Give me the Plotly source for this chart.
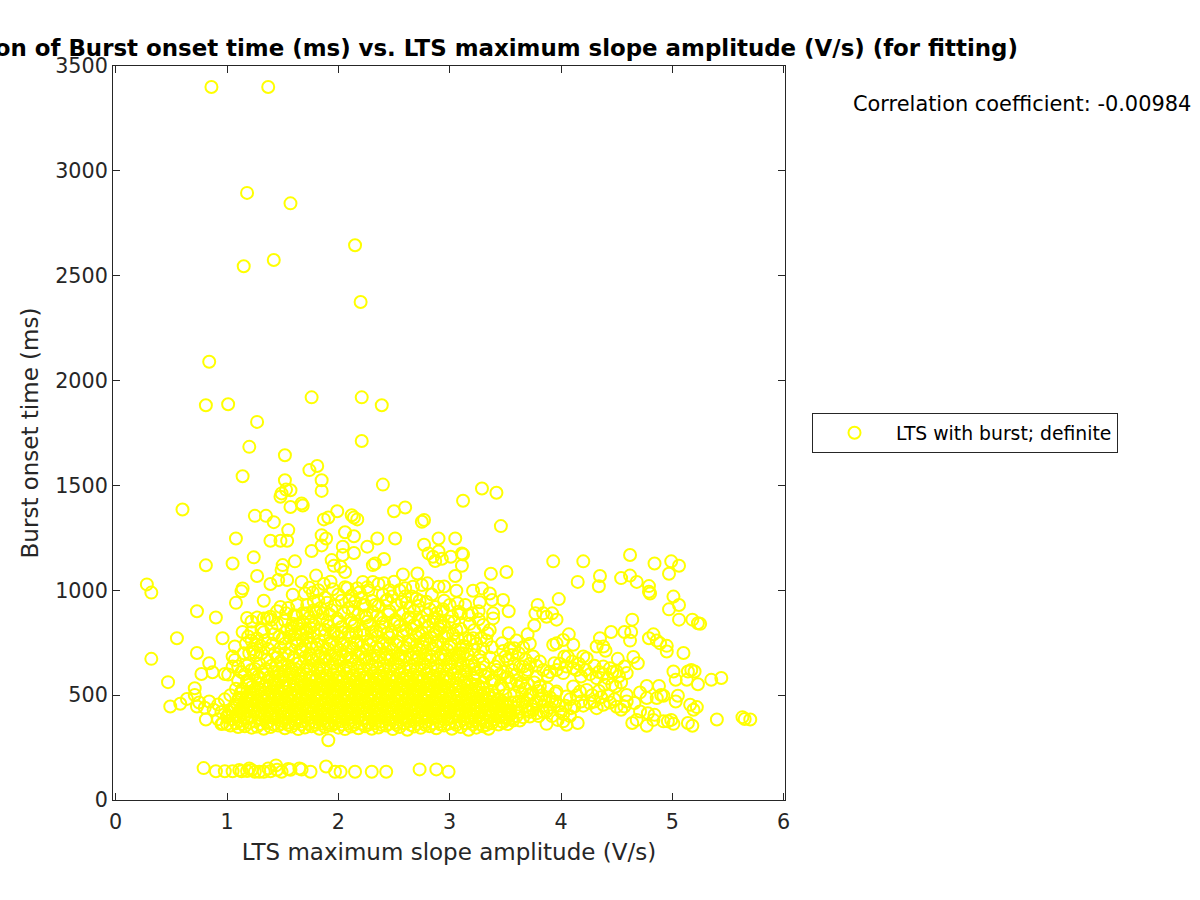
import plotly.graph_objects as go

title_text = "Correlation of Burst onset time (ms) vs. LTS maximum slope amplitude (V/s) (for fitting)"
x_label = "LTS maximum slope amplitude (V/s)"
y_label = "Burst onset time (ms)"
series_name = "LTS with burst; definite"
corr_text = "Correlation coefficient: -0.00984"
x_ticks = [0, 1, 2, 3, 4, 5, 6]
y_ticks = [0, 500, 1000, 1500, 2000, 2500, 3000, 3500]

high = [(.86,3400),(1.37,3400),(1.18,2895),(1.57,2845),(2.15,2645),(1.15,2545),(1.42,2575),(2.2,2375),(.84,2090),
(.81,1882),(1.01,1887),(1.76,1920),(2.21,1920),(2.39,1882),(1.27,1803),(1.20,1684),(2.21,1712),(1.52,1644),
(1.14,1544),(1.74,1573),(1.81,1593),(1.52,1525),(1.85,1525),(1.85,1474),(1.57,1477),(1.53,1480),(1.48,1446),
(1.49,1462),(1.57,1397),(1.67,1414),(1.68,1404),(2.40,1504),(.60,1385),(1.25,1355),(1.35,1355),(1.42,1325),
(1.55,1287),(1.39,1236),(1.48,1236),(1.54,1236),(1.08,1247),(1.24,1157),(.81,1119),(1.05,1128),(1.27,1068),
(1.39,1030),(1.46,1049),(1.54,1049),(1.49,1097),(1.50,1120),(1.61,1138),(1.76,1187),(1.85,1214),(1.85,1263),
(1.89,1247),(2.06,1277),(2.14,1258),(2.04,1208),(2.04,1168),(2.14,1178),(2.26,1208),(1.87,1338),(1.91,1347),
(1.99,1377),(2.12,1358),(2.14,1347),(2.17,1338),(2.50,1377),(2.60,1395),(2.75,1327),(2.77,1335),(2.77,1217),
(2.90,1247),(2.35,1247),(2.51,1247),(2.41,1149),(2.33,1128),(2.31,1120),(1.94,1144),(1.96,1117),(2.02,1112),
(2.06,1087),(1.80,1070),(1.67,1040),(1.93,1041),(1.87,1030),(1.74,1012),(1.77,989),(1.59,979),(1.33,950),
(.28,1028),(.32,989),(1.14,1009),(1.13,995),(1.08,940),(.73,900),(.90,870),(1.48,920),(1.63,930),(3.05,1247),
(3.01,1160),(3.11,1176),(3.12,1171),(3.11,1117),(3.05,1068),(3.37,1079),(3.51,1087),(3.12,1427),(3.29,1485),
(3.42,1465),(3.46,1306),(2.81,1176),(2.85,1160),(2.87,1140),(2.90,1185),(2.93,1150),(2.95,1018),(2.71,1080),(2.58,1075)]

low_band = [(.79,152),(.90,137),(.98,137),(1.05,137),(1.11,143),(1.13,137),(1.18,138),(1.22,143),(1.25,135),(1.29,135),
(1.33,135),(1.39,137),(1.44,165),(1.45,144),(1.49,135),(1.55,148),(1.57,144),(1.65,150),(1.67,145),(1.75,135),
(1.89,160),(1.97,135),(2.02,135),(2.15,135),(2.30,135),(2.43,135),(2.73,146),(2.88,146),(2.99,135),(1.20,150),(1.37,150),(1.91,285)]

left_edge = [(.55,771),(.96,771),(.32,673),(.73,701),(1.07,732),(1.18,868),(1.22,851),(1.14,801),(1.31,811),(1.42,790),
(1.36,866),(1.39,874),(1.40,859),(1.33,866),(.47,562),(.84,652),(.77,601),(.87,609),(.98,601),(1.01,598),(.71,533),
(.71,501),(.64,482),(.58,459),(.49,446),(.73,446),(.75,465),(.81,384),(1.05,684),(1.07,668),(1.05,636),(1.10,636),
(1.22,620),(1.24,597),(.80,440),(.84,470),(.88,430),(.92,455),(.95,420),(.98,480),(1.00,400),(.92,385),(.96,365),
(1.00,362),(1.03,500),(1.06,440),(1.08,530),(1.10,570),(1.13,610),(1.18,640),(1.20,700),(1.23,720),(1.27,740),
(1.22,760),(1.26,690),(1.31,700),(1.36,670),(1.40,640),(1.35,625),(1.29,650),(1.45,680),(1.48,725),(1.52,745),
(1.55,690),(1.60,680),(1.63,745),(1.47,780),(1.54,810),(1.59,840),(1.66,790),(1.70,735)]

right_tail = [(3.93,1138),(4.20,1138),(4.62,1168),(4.84,1128),(4.99,1138),(5.06,1117),(4.97,1079),(4.54,1058),(4.62,1070),
(4.68,1040),(4.79,1020),(4.79,993),(4.80,985),(4.35,1068),(4.34,1019),(4.15,1040),(3.98,958),(5.01,970),(5.06,930),
(4.97,909),(5.06,860),(5.18,860),(5.23,843),(5.25,840),(4.64,860),(4.45,801),(4.57,801),(4.63,801),(4.62,760),
(4.83,790),(4.79,771),(4.86,760),(4.89,747),(4.95,735),(4.95,708),(5.10,701),(4.35,771),(4.32,732),(4.38,732),
(4.40,712),(4.51,673),(4.65,682),(4.69,652),(5.01,613),(5.14,613),(5.17,620),(5.20,613),(5.03,573),(5.13,573),
(5.23,552),(5.35,573),(5.44,582),(4.77,544),(4.88,544),(4.71,513),(4.77,486),(4.86,486),(4.90,501),(4.92,497),
(5.05,497),(5.03,470),(5.16,454),(5.22,443),(5.19,430),(5.40,384),(5.63,395),(5.65,386),(5.70,384),(5.14,367),
(5.18,354),(5.01,363),(4.99,382),(4.96,375),(4.92,375),(4.77,354),(4.64,367),(4.68,382),(4.84,406),(4.83,382),
(4.78,414),(4.71,422),(4.66,462),(4.59,501),(4.59,470),(4.54,430),(4.57,446),(4.44,465),(4.38,454),(4.32,438),
(4.26,462),(4.15,367),(4.05,359),(3.87,363),(3.97,382),(4.02,375),(4.12,446),(4.09,438),(4.05,494),(3.95,509),
(3.95,470),(3.87,422),(3.78,414),(3.72,398),(3.57,379),(3.51,390),(3.56,390),(3.63,379)]

right_mid = [(3.93,740),(3.96,747),(4.02,763),(4.07,790),(4.11,740),(3.76,832),(3.70,790),(3.79,930),(3.77,890),(3.84,890),
(3.87,874),(3.92,890),(3.96,860),(3.53,795),(3.66,728),(3.75,684),(3.81,660),(3.94,652),(4.03,684),(4.06,684),
(4.20,684),(4.23,676),(4.05,636),(4.11,628),(4.02,605),(4.18,589),(4.32,581),(4.39,549),(4.49,541),(4.38,636),
(4.44,628),(4.50,613),(4.59,605),(4.57,636),(3.88,592),(3.78,589),(3.70,554),(3.81,541),(4.17,517),(4.23,525),
(4.11,541),(3.96,517),(3.53,900),(3.39,890),(3.39,866),(3.48,954),(3.36,985),(3.29,1009),(3.21,998),(3.06,998),
(3.27,943),(3.38,954),(3.07,938),(3.08,898),(3.17,882),(3.20,890),(3.26,862),(3.36,811),(3.34,795),(3.28,771),
(3.21,771),(3.14,771),(3.18,763),(3.06,811),(2.99,851),(3.38,728),(3.47,747),(3.54,724),(3.58,724),(3.50,684),
(3.56,692),(3.63,636),(3.66,636),(3.41,636),(3.45,597),(3.27,684),(3.30,652),(3.24,605),(3.09,700),(3.12,652),
(3.48,710),(3.52,670),(3.58,650),(3.44,660),(3.60,600),(3.68,600),(3.55,560),(3.62,540),(3.48,530),(3.72,500),
(3.78,470),(3.66,470),(3.84,450),(3.90,490),(3.60,440),(3.70,430),(3.54,420),(3.46,400),(3.40,440),(3.43,480),
(3.50,500),(3.38,520),(3.58,500),(3.90,440),(3.80,520),(3.74,450),(3.65,510),(3.30,560),(3.35,600),
(3.62,420),(3.68,445),(3.75,430),(3.82,480),(3.58,465),(3.52,445),(3.47,460),(3.42,410),(3.40,500),(3.46,550)]

upper_mid = [(1.70,985),(1.82,1000),(1.88,965),(1.95,1005),(2.00,980),(2.06,1015),(2.12,975),(2.17,1010),(2.21,965),
(2.27,1000),(2.36,1030),(2.41,1033),(2.46,1000),(2.50,1041),(2.55,1000),(2.60,970),(2.67,1017),(2.75,1025),
(2.80,1033),(2.90,1017),(2.84,980),(2.70,960),(2.95,950),(1.72,930),(1.78,945),(1.84,915),(1.90,940),(1.97,925),
(2.03,950),(2.09,915),(2.15,945),(2.24,930),(2.30,950),(2.36,925),(2.44,955),(2.52,930),(2.57,945),(2.64,915),
(2.72,925),(2.79,945),(2.87,920),(2.93,900),(3.00,930),(1.55,915),(1.62,880),(1.68,890),(1.74,870),(1.80,895),
(1.86,860),(1.92,885),(1.99,865),(2.05,890),(2.11,860),(2.18,885),(2.25,870),(2.31,895),(2.38,865),(2.45,885),
(2.51,860),(2.58,890),(2.65,870),(2.72,860),(2.80,885),(2.86,865),(2.92,850),(3.02,875),(1.45,840),(1.52,855),
(1.58,820),(1.65,840),(1.71,815),(1.78,835),(1.84,810),(1.91,830),(1.96,805),(2.03,825),(2.09,800),(2.14,830),
(2.22,810),(2.28,835),(2.34,805),(2.41,825),(2.48,800),(2.55,830),(2.61,810),(2.68,835),(2.75,800),(2.81,825),
(2.88,805),(2.95,830),(3.03,790),(3.10,815)]

mid_780 = [(1.72,775),(1.78,795),(1.83,760),(1.88,785),(1.94,755),(2.00,780),(2.05,750),(2.11,775),(2.17,755),(2.23,785),
(2.29,760),(2.35,780),(2.40,750),(2.46,775),(2.53,755),(2.58,785),(2.64,760),(2.70,780),(2.76,750),(2.83,775),
(2.89,755),(2.95,780),(3.01,745),(3.07,770),(3.12,735)]
mid_710 = [(1.68,715),(1.74,695),(1.80,725),(1.85,700),(1.91,720),(1.97,690),(2.02,715),(2.08,695),(2.13,725),(2.20,700),
(2.26,715),(2.32,690),(2.37,720),(2.43,695),(2.49,715),(2.55,690),(2.61,725),(2.67,700),(2.73,715),(2.79,690),
(2.85,720),(2.92,695),(2.98,715),(3.04,690),(3.10,720),(3.16,695),(3.22,715)]
mid_660 = [(1.42,610),(1.50,640),(1.58,625),(1.65,655),(1.72,640),(1.77,665),(1.83,645),(1.89,670),(1.95,650),(2.01,665),
(2.07,640),(2.12,665),(2.18,650),(2.24,670),(2.30,645),(2.36,660),(2.41,640),(2.47,670),(2.53,650),(2.59,665),
(2.65,640),(2.71,670),(2.77,650),(2.83,665),(2.89,640),(2.95,670),(3.01,650),(3.07,665),(3.17,640),(3.20,660)]
mid_extra = [(1.75,745),(1.81,740),(1.86,735),(1.92,745),(1.98,735),(2.04,742),(2.10,730),(2.16,745),(2.22,735),(2.28,742),
(2.34,730),(2.40,745),(2.46,735),(2.52,740),(2.58,730),(2.64,745),(2.70,735),(2.76,730),(2.82,745),(2.88,735),
(2.94,742),(3.00,730),(1.70,680),(1.76,675),(1.82,685),(1.88,678),(1.94,688),(2.00,676),(2.06,684),(2.12,678),
(2.18,688),(2.24,680),(2.30,674),(2.36,686),(2.42,678),(2.48,688),(2.54,676),(2.60,684),(2.66,678),(2.72,686),
(2.78,674),(2.84,684),(2.90,678),(2.96,688),(3.02,676),(3.08,684),(1.75,820),(1.88,812),(2.00,850),(2.12,845),
(2.26,850),(2.40,845),(2.53,850),(2.66,815),(2.78,850),(2.91,815),(1.62,765),(1.68,760),(2.78,765),(3.12,700),
(2.03,800),(2.16,795),(2.30,800),(2.44,795),(2.58,805),(2.72,795),(2.86,790),(2.98,795)]

cluster_left = [(1.15,700),(1.17,745),(1.19,780),(1.24,705),(1.27,770),(1.30,735),(1.34,760),(1.33,800),(1.37,720),(1.41,745),
(1.43,700),(1.44,640),(1.46,610),(1.50,770),(1.56,780),(1.58,805),(1.61,790),(1.63,835),(1.66,815),(1.68,850),
(1.16,600),(1.19,560),(1.25,625),(1.28,590),(1.32,610),(1.38,585),(1.43,570),(1.50,590),(1.55,640),(1.58,600),
(1.62,650),(1.48,660),(1.52,700),(1.57,720),(1.66,715),(1.72,800),(1.75,850),(1.78,905),(1.82,950),(1.86,890),
(1.90,850),(1.94,905),(1.96,795),(1.72,890),(1.60,880),(1.53,890),(1.45,900),(1.40,820),(1.27,870),(1.22,800)]
cluster_top = [(2.08,1010),(2.10,950),(2.13,900),(2.15,840),(2.19,990),(2.22,930),(2.24,880),(2.26,1015),(2.33,930),(2.35,880),
(2.38,810),(2.43,950),(2.46,900),(2.50,840),(2.48,970),(2.61,940),(2.63,870),(2.66,970),(2.68,900),(2.70,830),
(2.73,950),(2.82,910),(2.85,850),(2.88,890),(2.92,830),(2.94,910),(2.40,980),(2.31,1040),(2.22,1040),(2.60,1010),
(3.04,850),(3.10,890),(3.14,930),(3.18,840),(3.22,810),(3.26,900),(3.30,835),(3.33,760),(3.15,730),(3.24,745),
(3.30,720),(3.36,680),(3.10,640),(3.15,610),(3.22,640),(3.28,620),(3.32,590),(3.38,570),(3.42,620),(3.48,610)]
cluster_right = [(3.40,570),(3.44,530),(3.52,585),(3.56,620),(3.60,570),(3.64,560),(3.68,530),(3.70,480),(3.74,510),(3.76,560),
(3.83,500),(3.86,470),(3.88,530),(3.92,470),(3.98,450),(4.00,420),(4.04,450),(4.08,480),(4.14,500),(4.18,470),
(4.20,450),(4.28,500),(4.30,470),(4.34,520),(4.36,490),(4.42,500),(4.48,480),(4.50,445),(3.60,400),(3.66,395),
(3.72,420),(3.80,400),(3.84,420),(3.92,400),(4.02,410),(4.08,400),(3.70,620),(3.72,650),(3.78,640),(3.84,620),
(3.90,610),(3.96,620),(3.99,650),(4.10,660),(4.14,620),(4.16,650),(4.22,620),(4.26,600),(4.30,640),(4.34,610),
(4.38,600),(4.42,580),(4.46,610),(4.52,590),(4.54,560),(4.46,550),(3.62,700),(3.68,670),(3.60,760),(3.72,745)]

row_350 = [(.95,362),(1.03,355),(1.10,348),(1.16,352),(1.22,345),(1.27,350),(1.33,340),(1.39,348),(1.46,355),(1.52,342),
(1.58,350),(1.64,338),(1.70,346),(1.76,352),(1.83,340),(1.88,348),(1.94,355),(2.00,345),(2.06,338),(2.11,350),
(2.18,342),(2.24,352),(2.30,340),(2.36,346),(2.43,355),(2.49,338),(2.55,348),(2.62,335),(2.68,350),(2.74,344),
(2.82,352),(2.88,342),(2.95,355),(3.02,340),(3.10,348),(3.17,335),(3.24,345),(3.30,352),(3.35,340),(3.44,360)]
row_380 = [(1.05,385),(1.12,378),(1.18,390),(1.25,375),(1.31,385),(1.37,372),(1.43,388),(1.49,378),(1.55,370),(1.61,385),
(1.67,375),(1.73,390),(1.79,372),(1.85,382),(1.91,370),(1.97,388),(2.03,376),(2.09,390),(2.15,372),(2.21,384),
(2.27,370),(2.33,388),(2.39,375),(2.45,385),(2.51,370),(2.58,390),(2.64,376),(2.71,384),(2.78,372),(2.85,388),
(2.91,375),(2.98,385),(3.05,370),(3.13,386),(3.20,375),(3.27,388),(3.33,372),(3.40,385),(3.47,375),(3.52,362)]
row_410 = [(1.02,420),(1.09,408),(1.15,415),(1.21,402),(1.28,418),(1.34,405),(1.40,412),(1.46,400),(1.52,418),(1.58,405),
(1.64,415),(1.70,402),(1.76,418),(1.82,405),(1.88,412),(1.94,400),(2.00,418),(2.06,405),(2.12,415),(2.18,402),
(2.24,418),(2.30,405),(2.36,412),(2.42,400),(2.48,418),(2.54,405),(2.60,415),(2.66,402),(2.73,418),(2.79,405),
(2.86,412),(2.93,400),(3.00,418),(3.07,405),(3.14,415),(3.21,402),(3.28,418),(3.35,405),(3.42,415),(3.49,420),(3.55,410)]
row_440 = [(1.07,448),(1.13,435),(1.19,445),(1.25,432),(1.32,440),(1.38,430),(1.44,448),(1.50,435),(1.56,442),(1.62,430),
(1.68,448),(1.74,436),(1.80,444),(1.86,430),(1.92,446),(1.98,434),(2.04,442),(2.10,430),(2.16,448),(2.22,435),
(2.28,444),(2.34,430),(2.40,446),(2.46,434),(2.52,442),(2.58,430),(2.64,448),(2.70,436),(2.76,444),(2.83,430),
(2.89,446),(2.96,434),(3.03,442),(3.10,430),(3.17,448),(3.24,436),(3.31,444),(3.37,432),(3.44,445),(3.52,450),(3.62,470)]
row_470 = [(1.10,478),(1.16,465),(1.22,475),(1.29,462),(1.35,472),(1.41,460),(1.47,478),(1.53,465),(1.59,472),(1.65,460),
(1.71,478),(1.77,466),(1.83,474),(1.89,460),(1.95,476),(2.01,464),(2.07,472),(2.13,460),(2.19,478),(2.25,465),
(2.31,474),(2.37,460),(2.43,476),(2.49,464),(2.55,472),(2.61,460),(2.67,478),(2.73,466),(2.79,474),(2.86,460),
(2.92,476),(2.99,464),(3.06,472),(3.13,460),(3.20,478),(3.27,466),(3.34,474),(3.41,462),(3.47,470),(3.55,465)]
row_500 = [(1.12,508),(1.18,495),(1.24,505),(1.30,492),(1.36,502),(1.42,490),(1.48,508),(1.54,495),(1.60,502),(1.66,490),
(1.72,508),(1.78,496),(1.84,504),(1.90,490),(1.96,506),(2.02,494),(2.08,502),(2.14,490),(2.20,508),(2.26,495),
(2.32,504),(2.38,490),(2.44,506),(2.50,494),(2.56,502),(2.62,490),(2.68,508),(2.74,496),(2.80,504),(2.87,490),
(2.93,506),(3.00,494),(3.07,502),(3.14,490),(3.21,508),(3.28,496),(3.35,504)]
row_530 = [(1.14,530),(1.22,538),(1.30,525),(1.38,535),(1.45,522),(1.52,538),(1.59,525),(1.66,535),(1.72,522),(1.78,538),
(1.84,526),(1.90,534),(1.96,520),(2.02,536),(2.08,524),(2.14,532),(2.20,520),(2.26,538),(2.32,525),(2.38,534),
(2.44,520),(2.50,536),(2.56,524),(2.62,532),(2.68,520),(2.74,538),(2.80,526),(2.86,534),(2.92,520),(2.98,536),
(3.05,524),(3.12,532),(3.19,520),(3.26,538)]
row_565 = [(1.18,570),(1.28,558),(1.36,568),(1.44,555),(1.52,570),(1.60,558),(1.67,565),(1.73,552),(1.79,570),(1.85,558),
(1.91,566),(1.97,552),(2.03,568),(2.09,556),(2.15,564),(2.21,552),(2.27,570),(2.33,558),(2.39,566),(2.45,552),
(2.51,568),(2.57,556),(2.63,564),(2.69,552),(2.75,570),(2.81,558),(2.87,566),(2.93,552),(2.99,568),(3.06,556),
(3.13,564),(3.20,552)]
row_600 = [(1.34,598),(1.46,590),(1.56,605),(1.64,592),(1.71,600),(1.77,588),(1.83,604),(1.89,592),(1.95,600),(2.01,586),
(2.07,604),(2.13,592),(2.19,598),(2.25,586),(2.31,604),(2.37,592),(2.43,600),(2.49,586),(2.55,604),(2.61,592),
(2.67,598),(2.73,586),(2.79,604),(2.85,592),(2.91,600),(2.97,586),(3.03,604),(3.10,592)]

fill_365 = [(1.08,366),(1.14,362),(1.20,368),(1.30,362),(1.36,367),(1.42,360),(1.49,364),(1.55,358),(1.61,366),(1.67,360),
(1.73,365),(1.79,358),(1.86,364),(1.91,358),(1.97,366),(2.03,360),(2.09,364),(2.14,358),(2.21,365),(2.27,360),
(2.33,366),(2.39,358),(2.46,364),(2.52,360),(2.59,366),(2.65,358),(2.71,364),(2.78,358),(2.85,366),(2.92,360),
(2.99,364),(3.06,358),(3.14,366),(3.21,360),(3.27,364),(3.33,358),(3.38,366),(3.48,370)]
fill_395 = [(1.00,395),(1.08,398),(1.15,392),(1.22,396),(1.28,392),(1.34,398),(1.40,393),(1.46,397),(1.52,392),(1.58,398),
(1.64,393),(1.70,396),(1.76,392),(1.82,398),(1.88,393),(1.94,397),(2.00,392),(2.06,398),(2.12,393),(2.18,396),
(2.24,392),(2.30,398),(2.36,393),(2.42,397),(2.48,392),(2.54,398),(2.61,393),(2.68,396),(2.75,392),(2.81,398),
(2.88,393),(2.95,397),(3.02,392),(3.09,398),(3.16,393),(3.23,396),(3.30,392),(3.37,398),(3.44,393),(3.51,396)]
fill_425 = [(1.04,428),(1.11,424),(1.18,428),(1.24,423),(1.30,428),(1.36,424),(1.42,427),(1.48,423),(1.54,428),(1.60,424),
(1.66,427),(1.72,423),(1.78,428),(1.84,424),(1.90,427),(1.96,423),(2.02,428),(2.08,424),(2.14,427),(2.20,423),
(2.26,428),(2.32,424),(2.38,427),(2.44,423),(2.50,428),(2.56,424),(2.62,427),(2.68,423),(2.75,428),(2.81,424),
(2.87,427),(2.94,423),(3.01,428),(3.08,424),(3.15,427),(3.22,423),(3.29,428),(3.36,424),(3.46,430),(3.53,428)]
fill_455 = [(1.09,455),(1.15,452),(1.21,458),(1.27,453),(1.33,457),(1.39,452),(1.45,458),(1.51,453),(1.57,457),(1.63,452),
(1.69,458),(1.75,453),(1.81,457),(1.87,452),(1.93,458),(1.99,453),(2.05,457),(2.11,452),(2.17,458),(2.23,453),
(2.29,457),(2.35,452),(2.41,458),(2.47,453),(2.53,457),(2.59,452),(2.65,458),(2.71,453),(2.77,457),(2.84,452),
(2.90,458),(2.97,453),(3.04,457),(3.11,452),(3.18,458),(3.25,453),(3.32,457),(3.39,452),(3.50,458)]
fill_485 = [(1.11,488),(1.17,483),(1.23,488),(1.31,483),(1.37,487),(1.43,482),(1.49,488),(1.55,483),(1.61,487),(1.67,482),
(1.73,488),(1.79,483),(1.85,487),(1.91,482),(1.97,488),(2.03,483),(2.09,487),(2.15,482),(2.21,488),(2.27,483),
(2.33,487),(2.39,482),(2.45,488),(2.51,483),(2.57,487),(2.63,482),(2.69,488),(2.75,483),(2.81,487),(2.88,482),
(2.94,488),(3.01,483),(3.08,487),(3.15,482),(3.22,488),(3.29,483),(3.36,487),(3.44,482)]
fill_515 = [(1.13,518),(1.21,512),(1.28,516),(1.34,512),(1.40,517),(1.46,513),(1.52,516),(1.58,512),(1.64,517),(1.70,513),
(1.76,516),(1.82,512),(1.88,517),(1.94,513),(2.00,516),(2.06,512),(2.12,517),(2.18,513),(2.24,516),(2.30,512),
(2.36,517),(2.42,513),(2.48,516),(2.54,512),(2.60,517),(2.66,513),(2.72,516),(2.78,512),(2.84,517),(2.90,513),
(2.96,516),(3.03,512),(3.10,517),(3.17,513),(3.24,516),(3.31,512)]
fill_548 = [(1.20,552),(1.34,545),(1.42,550),(1.50,545),(1.56,550),(1.63,546),(1.69,550),(1.75,544),(1.81,549),(1.87,545),
(1.93,550),(1.99,544),(2.05,549),(2.11,545),(2.17,550),(2.23,544),(2.29,549),(2.35,545),(2.41,550),(2.47,544),
(2.53,549),(2.59,545),(2.65,550),(2.71,544),(2.77,549),(2.83,545),(2.89,550),(2.95,544),(3.02,549),(3.09,545),
(3.16,548),(3.23,544),(3.30,530)]
fill_582 = [(1.30,580),(1.48,575),(1.60,584),(1.67,578),(1.74,583),(1.80,577),(1.86,582),(1.92,576),(1.98,583),(2.04,578),
(2.10,582),(2.16,576),(2.22,583),(2.28,578),(2.34,582),(2.40,576),(2.46,583),(2.52,578),(2.58,582),(2.64,576),
(2.70,583),(2.76,578),(2.82,582),(2.88,576),(2.94,583),(3.00,578),(3.07,582),(3.15,575),(3.22,580)]
fill_625 = [(1.52,615),(1.62,622),(1.69,618),(1.75,625),(1.81,620),(1.87,628),(1.93,618),(1.99,625),(2.05,620),(2.11,628),
(2.17,618),(2.23,625),(2.29,620),(2.35,628),(2.41,618),(2.47,625),(2.53,620),(2.59,628),(2.65,618),(2.71,625),
(2.77,620),(2.83,628),(2.89,618),(2.95,625),(3.01,620),(3.07,628),(3.14,618),(3.22,625)]

groups = [high, low_band, left_edge, right_tail, right_mid, upper_mid, mid_780, mid_710, mid_660, mid_extra,
          cluster_left, cluster_top, cluster_right,
          row_350, row_380, row_410, row_440, row_470, row_500, row_530, row_565, row_600,
          fill_365, fill_395, fill_425, fill_455, fill_485, fill_515, fill_548, fill_582, fill_625]
points = [p for g in groups for p in g]
burst_x = [p[0] for p in points]
burst_y = [p[1] for p in points]

ink = "#262626"
fig = go.Figure(go.Scatter(
    x=burst_x, y=burst_y, mode="markers", name=series_name, showlegend=True,
    marker=dict(symbol="circle-open", size=12, color="#ffff00", line=dict(width=2, color="#ffff00")),
    cliponaxis=False,
))
axis_common = dict(showgrid=False, zeroline=False, showline=True, linecolor=ink, linewidth=1, mirror="ticks",
                   ticks="inside", ticklen=7, tickwidth=1, tickcolor=ink,
                   tickfont=dict(family="DejaVu Sans", size=20.7, color=ink))
fig.update_xaxes(range=[-0.0242, 6.012], tickvals=x_ticks, ticklabelstandoff=3,
                 title=dict(text=x_label, font=dict(family="DejaVu Sans", size=23, color=ink), standoff=11), **axis_common)
fig.update_yaxes(range=[0, 3500], tickvals=y_ticks,
                 title=dict(text=y_label, font=dict(family="DejaVu Sans", size=23, color=ink), standoff=10), **axis_common)
fig.update_layout(
    width=1200, height=900, autosize=False, plot_bgcolor="white", paper_bgcolor="white",
    margin=dict(l=113, r=415, t=66, b=100),
    title=dict(text="<b>" + title_text + "</b>", x=450 / 1200, xanchor="center", xref="container", y=1 - 48 / 900, yanchor="middle",
               font=dict(family="DejaVu Sans", size=22.9, color="black")),
    legend=dict(x=(812 - 113) / 672, y=0.5, yanchor="middle", xanchor="left",
                bordercolor=ink, borderwidth=1, bgcolor="white",
                font=dict(family="DejaVu Sans", size=18.8, color="black"), itemwidth=73),
    annotations=[dict(text=corr_text, xref="paper", yref="paper", x=(851 - 113) / 672, y=1 - 38 / 734, xanchor="left", yanchor="middle",
                      showarrow=False, font=dict(family="DejaVu Sans", size=20.9, color="black"))],
)
fig.write_html("out.html", post_script="document.body.style.margin='0';", config=dict(displayModeBar=False))
